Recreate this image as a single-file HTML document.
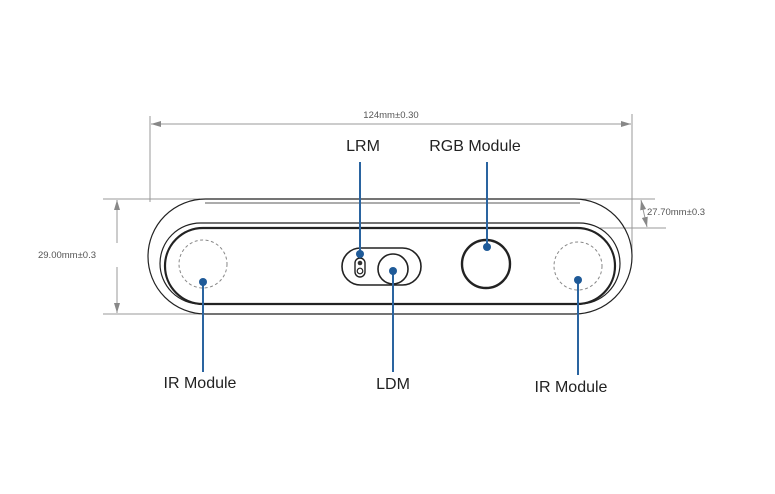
<!DOCTYPE html>
<html><head><meta charset="utf-8"><style>
html,body{margin:0;padding:0;background:#fff;}
svg{display:block;font-family:"Liberation Sans",sans-serif;}
</style></head><body>
<svg width="775" height="494" viewBox="0 0 775 494" xmlns="http://www.w3.org/2000/svg">
<defs>
<marker id="a" viewBox="0 0 10 6" refX="10" refY="3" markerWidth="10" markerHeight="6" orient="auto-start-reverse" markerUnits="userSpaceOnUse"><path d="M0,0 L10,3 L0,6 z" fill="#888"/></marker>
</defs>
<g stroke="#999" stroke-width="1" fill="none">
<!-- top dim -->
<line x1="150" y1="116" x2="150" y2="202"/>
<line x1="632" y1="114" x2="632" y2="260"/>
<line x1="151" y1="124" x2="631" y2="124" marker-start="url(#a)" marker-end="url(#a)"/>
<!-- left dim -->
<line x1="103" y1="199" x2="200" y2="199"/>
<line x1="103" y1="314" x2="200" y2="314"/>
<line x1="117" y1="200" x2="117" y2="243" marker-start="url(#a)"/>
<line x1="117" y1="267" x2="117" y2="313" marker-end="url(#a)"/>
<!-- right dim -->
<line x1="580" y1="199" x2="655" y2="199"/>
<line x1="600" y1="228" x2="666" y2="228"/>
<line x1="641" y1="200" x2="647" y2="227" marker-start="url(#a)" marker-end="url(#a)"/>
</g>
<g fill="#555" font-size="9.5">
<text x="391" y="118" text-anchor="middle">124mm±0.30</text>
<text x="67" y="258" text-anchor="middle">29.00mm±0.3</text>
<text x="647" y="215">27.70mm±0.3</text>
</g>
<!-- body -->
<g fill="none" stroke="#222">
<rect x="148" y="199" width="484" height="115" rx="57.5" stroke-width="1.2"/>
<path d="M205,203 L580,203" stroke-width="0.8"/>
<rect x="160" y="223" width="460" height="81" rx="40.5" stroke-width="1.2"/>
<rect x="165" y="228" width="450" height="76" rx="38" stroke-width="2.2"/>
<rect x="342" y="248" width="79" height="37" rx="18.5" stroke-width="1.6"/>
<rect x="355" y="258" width="10" height="19" rx="5" stroke-width="1.4"/>
<circle cx="360" cy="263" r="2.3" fill="#333" stroke="none"/>
<circle cx="360" cy="271" r="2.8" stroke-width="1.2"/>
<circle cx="393" cy="269" r="15" stroke-width="1.6"/>
<circle cx="486" cy="264" r="24" stroke-width="2.4"/>
<circle cx="203" cy="264" r="24" stroke="#888" stroke-dasharray="3,2.5"/>
<circle cx="578" cy="266" r="24" stroke="#888" stroke-dasharray="3,2.5"/>
</g>
<!-- callouts -->
<g stroke="#2a64a0" stroke-width="2">
<line x1="360" y1="162" x2="360" y2="254"/>
<line x1="487" y1="162" x2="487" y2="247"/>
<line x1="203" y1="282" x2="203" y2="372"/>
<line x1="393" y1="271" x2="393" y2="372"/>
<line x1="578" y1="280" x2="578" y2="375"/>
</g>
<g fill="#1f5a98">
<circle cx="360" cy="254" r="4"/>
<circle cx="487" cy="247" r="4"/>
<circle cx="203" cy="282" r="4"/>
<circle cx="393" cy="271" r="4"/>
<circle cx="578" cy="280" r="4"/>
</g>
<g fill="#222" font-size="16" text-anchor="middle">
<text x="363" y="151">LRM</text>
<text x="475" y="151">RGB Module</text>
<text x="200" y="388">IR Module</text>
<text x="393" y="389">LDM</text>
<text x="571" y="392">IR Module</text>
</g>
</svg>
</body></html>
